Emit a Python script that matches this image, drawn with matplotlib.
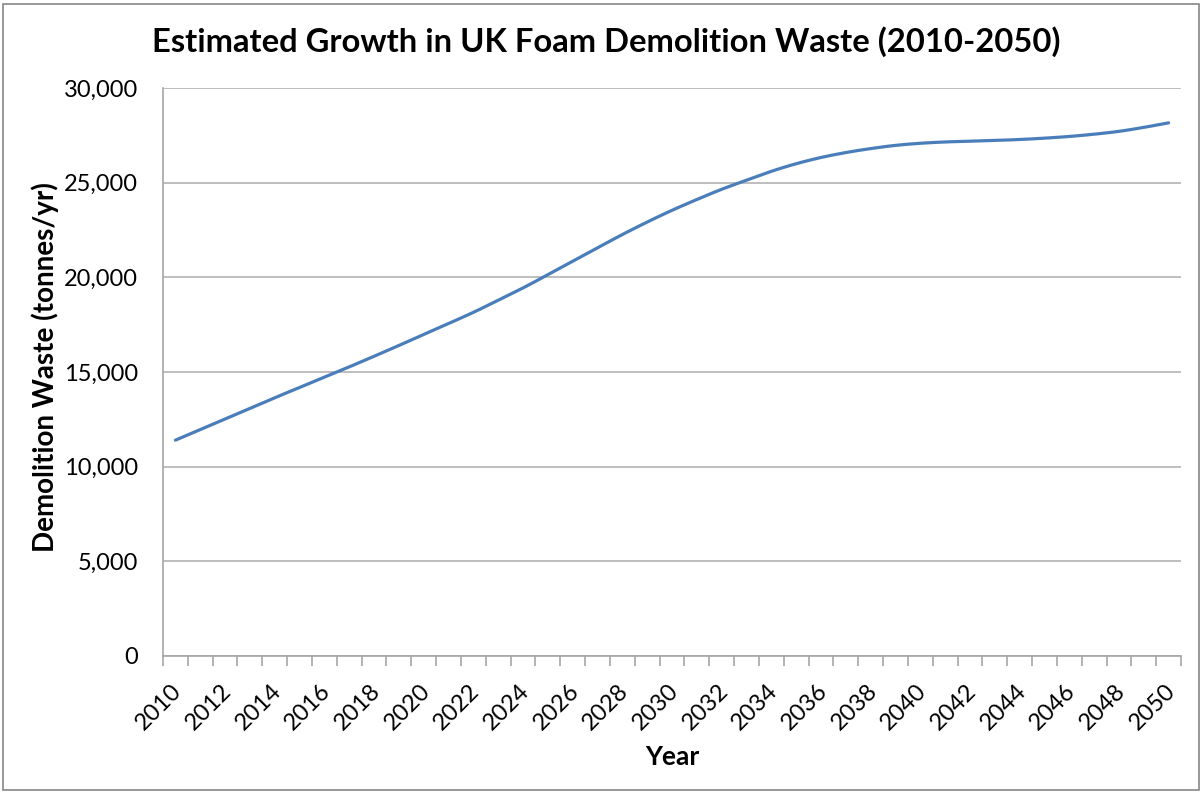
import matplotlib
matplotlib.use("Agg")
import matplotlib.pyplot as plt
from matplotlib.ticker import FuncFormatter
from matplotlib.patches import Rectangle
from matplotlib.transforms import ScaledTranslation
import numpy as np

years = list(range(2010, 2051))
waste = [11400, 11960, 12520, 13080, 13640, 14180, 14730, 15270, 15830, 16400,
         16990, 17560, 18150, 18790, 19440, 20140, 20850, 21560, 22260, 22920,
         23540, 24110, 24650, 25130, 25600, 26000, 26330, 26590, 26800, 26970,
         27080, 27150, 27190, 27230, 27280, 27350, 27440, 27560, 27710, 27920,
         28160]
tick_labels = [str(y) for y in years[::2]]
y_ticks = [0, 5000, 10000, 15000, 20000, 25000, 30000]


def smooth(xs, ys, n=12):
    # Catmull-Rom curve through the data points (Excel "smoothed line" look)
    xs = np.asarray(xs, float)
    ys = np.asarray(ys, float)
    px = np.concatenate([[2 * xs[0] - xs[1]], xs, [2 * xs[-1] - xs[-2]]])
    py = np.concatenate([[2 * ys[0] - ys[1]], ys, [2 * ys[-1] - ys[-2]]])
    ox, oy = [], []
    t = np.linspace(0, 1, n, endpoint=False)
    for i in range(1, len(px) - 2):
        for P, out in ((px, ox), (py, oy)):
            p0, p1, p2, p3 = P[i - 1], P[i], P[i + 1], P[i + 2]
            out.extend(0.5 * ((2 * p1) + (-p0 + p2) * t +
                              (2 * p0 - 5 * p1 + 4 * p2 - p3) * t ** 2 +
                              (-p0 + 3 * p1 - 3 * p2 + p3) * t ** 3))
    ox.append(xs[-1])
    oy.append(ys[-1])
    return np.array(ox), np.array(oy)


plt.rcParams['font.family'] = ['Lato', 'DejaVu Sans']

fig = plt.figure(figsize=(12.03, 7.93), dpi=100)
fig.patches.append(Rectangle((3/1203, 3/793), 1 - 7/1203, 1 - 7/793,
                             transform=fig.transFigure, fill=False,
                             edgecolor='#868686', linewidth=1.2))

ax = fig.add_axes([163/1203, 137/793, (1181-163)/1203, (656-88)/793])

x = np.arange(len(years))
sx, sy = smooth(x, waste)
ax.plot(sx, sy, color='#4A7EBB', linewidth=2.3, solid_capstyle='round')

ax.set_xlim(-0.5, len(years) - 0.5)
ax.set_ylim(0, 30000)
ax.set_yticks(y_ticks)
ax.yaxis.set_major_formatter(FuncFormatter(lambda v, p: f"{int(v):,}"))
ax.tick_params(axis='y', length=0, pad=18, labelsize=17)
ax.grid(axis='y', color='#B3B3B3', linewidth=1.2)
ax.set_axisbelow(True)

# category boundary ticks
ax.set_xticks(np.arange(-0.5, len(years) + 0.5, 1.0), minor=True)
ax.tick_params(axis='x', which='minor', length=7, width=1.2, color='#A6A6A6')
ax.set_xticks(x[::2])
ax.set_xticklabels(tick_labels, rotation=45, ha='right', va='center',
                   rotation_mode='anchor', fontsize=17)
ax.tick_params(axis='x', which='major', length=0, pad=23)
shift = ScaledTranslation(3/100, 0, fig.dpi_scale_trans)
for lbl in ax.get_xticklabels():
    lbl.set_transform(lbl.get_transform() + shift)

for s in ['top', 'right']:
    ax.spines[s].set_visible(False)
for s in ['left', 'bottom']:
    ax.spines[s].set_color('#A6A6A6')
    ax.spines[s].set_linewidth(1.2)

fig.text(672/1203, 1 - 757/793, 'Year', ha='center', va='center',
         fontsize=19, fontweight='bold')
fig.text(45/1203, 1 - 367/793, 'Demolition Waste (tonnes/yr)', ha='center',
         va='center', rotation=90, fontsize=20, fontweight='bold')
fig.text(606/1203, 1 - 42/793, 'Estimated Growth in UK Foam Demolition Waste (2010-2050)',
         ha='center', va='center', fontsize=23.6, fontweight='bold')

fig.savefig('out.png', dpi=100)
